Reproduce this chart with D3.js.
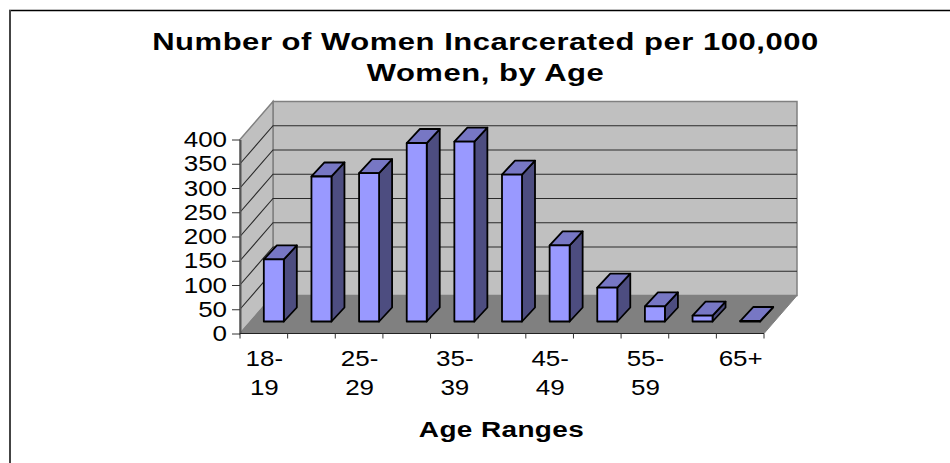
<!DOCTYPE html>
<html>
<head>
<meta charset="utf-8">
<script src="https://cdn.jsdelivr.net/npm/d3@7"></script>
<style>
  html, body { margin: 0; padding: 0; background: #fff; overflow: hidden; }
  svg { display: block; }
  text { font-family: "Liberation Sans", Arial, sans-serif; fill: #000; }
</style>
</head>
<body>
<svg id="chart" width="950" height="463"></svg>
<script>
const categories = ["18-19", "20-24", "25-29", "30-34", "35-39", "40-44", "45-49", "50-54", "55-59", "60-64", "65+"];
const rates = [128, 299, 306, 368, 371, 303, 157, 70, 31, 12, 1];
const yTicks = [0, 50, 100, 150, 200, 250, 300, 350, 400];
const shownLabels = [["18-", "19"], null, ["25-", "29"], null, ["35-", "39"], null, ["45-", "49"], null, ["55-", "59"], null, ["65+"]];
const titleLines = ["Number of Women Incarcerated per 100,000", "Women, by Age"];
const xTitle = "Age Ranges";

const svg = d3.select("#chart");

// the original frame runs off the right and bottom of the picture
svg.append("line").attr("x1", 9).attr("x2", 950).attr("y1", 10.5).attr("y2", 10.5)
  .attr("stroke", "#000").attr("stroke-width", 1.5);
svg.append("line").attr("x1", 10).attr("x2", 10).attr("y1", 10).attr("y2", 463)
  .attr("stroke", "#444").attr("stroke-width", 2);

const x = d3.scaleBand().domain(categories).range([240, 764]);
const y = d3.scaleLinear().domain([0, 400]).range([333.5, 139.5]);

// 3d offsets: wall depth and bar depth
const depth = { dx: 33, dy: -38 };
const barDepth = { dx: 13, dy: -14 };
const barShift = { dx: 10, dy: -12 };
const barWidth = 20;

// the text in the reference is stretched sideways
const labelStretch = 1.18;

const x0 = x.range()[0], x1 = x.range()[1];
const yBase = y(0), yTop = y(400);
const poly = pts => "M" + pts.map(p => p.join(",")).join("L") + "Z";

// back wall
svg.append("path")
  .attr("d", poly([[x0 + depth.dx, yBase + depth.dy], [x1 + depth.dx, yBase + depth.dy], [x1 + depth.dx, yTop + depth.dy], [x0 + depth.dx, yTop + depth.dy]]))
  .attr("fill", "#c0c0c0").attr("stroke", "#808080").attr("stroke-width", 1.5);

// side wall
svg.append("path")
  .attr("d", poly([[x0, yBase], [x0 + depth.dx, yBase + depth.dy], [x0 + depth.dx, yTop + depth.dy], [x0, yTop]]))
  .attr("fill", "#c0c0c0").attr("stroke", "#808080").attr("stroke-width", 1.5);

// floor
svg.append("path")
  .attr("d", poly([[x0, yBase], [x1, yBase], [x1 + depth.dx, yBase + depth.dy], [x0 + depth.dx, yBase + depth.dy]]))
  .attr("fill", "#808080").attr("stroke", "#808080");

// gridlines
const gridTicks = yTicks.filter(d => d > 0 && d < 400);
svg.append("g").selectAll("path")
  .data(gridTicks)
  .enter()
  .append("path")
  .attr("d", d => `M${x0},${y(d)}L${x0 + depth.dx},${y(d) + depth.dy}L${x1 + depth.dx},${y(d) + depth.dy}`)
  .attr("fill", "none")
  .attr("stroke", "#2a2a2a")
  .attr("stroke-width", 1.1);

// bars
const bars = svg.append("g").selectAll("g")
  .data(categories.map((c, i) => ({ c, v: rates[i] })))
  .enter()
  .append("g")
  .attr("stroke", "#000")
  .attr("stroke-width", 1.8)
  .attr("stroke-linejoin", "round");

const bl = d => x(d.c) + x.bandwidth() / 2 - barWidth / 2 + barShift.dx;
const bb = yBase + barShift.dy;
const bt = d => y(d.v) + barShift.dy;

bars.append("path")
  .attr("d", d => poly([[bl(d) + barWidth, bb], [bl(d) + barWidth + barDepth.dx, bb + barDepth.dy], [bl(d) + barWidth + barDepth.dx, bt(d) + barDepth.dy], [bl(d) + barWidth, bt(d)]]))
  .attr("fill", "#4d4d80");
bars.append("path")
  .attr("d", d => poly([[bl(d), bt(d)], [bl(d) + barWidth, bt(d)], [bl(d) + barWidth + barDepth.dx, bt(d) + barDepth.dy], [bl(d) + barDepth.dx, bt(d) + barDepth.dy]]))
  .attr("fill", "#7777c4");
bars.append("rect")
  .attr("x", bl)
  .attr("y", bt)
  .attr("width", barWidth)
  .attr("height", d => bb - bt(d))
  .attr("fill", "#9999ff");

// y axis
const yAxis = d3.axisLeft(y).tickValues(yTicks).tickSize(8).tickSizeOuter(0);
const yG = svg.append("g").attr("transform", `translate(${x0},0)`).call(yAxis);
yG.select(".domain").attr("stroke", "#555").attr("stroke-width", 2);
yG.selectAll("line").attr("stroke", "#333").attr("stroke-width", 1);
yG.selectAll("text")
  .attr("x", 0)
  .attr("transform", `translate(-13,0) scale(${labelStretch},1)`)
  .style("font-size", "22px")
  .style("font-family", '"Liberation Sans", Arial, sans-serif');

// x axis, ticks sit on the band edges
const xAxisG = svg.append("g").attr("transform", `translate(0,${yBase})`);
xAxisG.append("path").attr("d", `M${x0},0H${x1}`).attr("stroke", "#222").attr("stroke-width", 1.2);
xAxisG.selectAll("line")
  .data(categories.map(c => x(c)).concat([x1]))
  .enter()
  .append("line")
  .attr("x1", d => d).attr("x2", d => d)
  .attr("y1", 0).attr("y2", 5)
  .attr("stroke", "#333").attr("stroke-width", 1);

// category labels, only every second one fits
const labelRows = categories.flatMap((c, i) => (shownLabels[i] || []).map((t, row) => ({ c, t, row })));
svg.append("g").selectAll("text")
  .data(labelRows)
  .enter()
  .append("text")
  .attr("text-anchor", "middle")
  .attr("font-size", 22)
  .attr("transform", d => `translate(${x(d.c) + x.bandwidth() / 2 + 0.5},${366 + d.row * 29}) scale(${labelStretch},1)`)
  .text(d => d.t);

// titles
svg.append("g").selectAll("text")
  .data(titleLines)
  .enter()
  .append("text")
  .attr("text-anchor", "middle")
  .attr("font-size", 23.5)
  .attr("font-weight", "bold")
  .attr("letter-spacing", 0.4)
  .attr("transform", (d, i) => `translate(485.5,${50 + i * 30.5}) scale(1.32,1)`)
  .text(d => d);

svg.append("text")
  .attr("text-anchor", "middle")
  .attr("font-size", 21.5)
  .attr("font-weight", "bold")
  .attr("letter-spacing", 0.3)
  .attr("transform", "translate(501.5,437) scale(1.3,1)")
  .text(xTitle);
</script>
</body>
</html>
